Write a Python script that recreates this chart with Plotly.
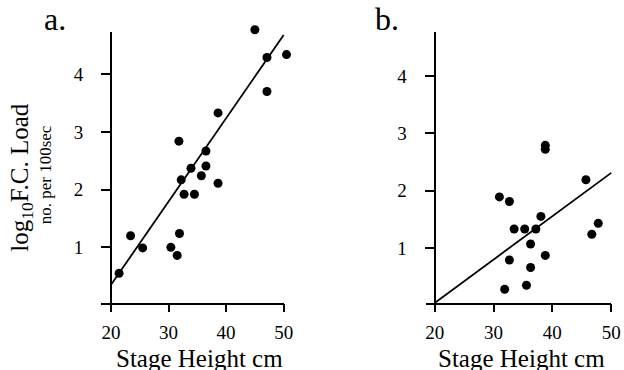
import plotly.graph_objects as go

# Panel a data
a_x = [21.4, 23.4, 25.5, 30.4, 31.5, 31.9, 31.8, 32.2, 32.7, 34.5, 33.9, 35.7, 36.5, 36.5, 38.6, 38.6, 45.0, 47.1, 47.1, 50.5]
a_y = [0.55, 1.20, 0.99, 1.00, 0.86, 1.24, 2.84, 2.17, 1.92, 1.92, 2.37, 2.24, 2.67, 2.41, 3.33, 2.11, 4.77, 4.29, 3.70, 4.34]
a_fit_x = [20, 50]
a_fit_y = [0.35, 4.68]

# Panel b data
b_x = [31.0, 32.7, 33.5, 35.3, 37.2, 38.05, 38.8, 38.8, 36.3, 32.7, 36.3, 38.8, 31.9, 35.6, 45.7, 46.7, 47.8]
b_y = [1.89, 1.81, 1.33, 1.33, 1.33, 1.55, 2.72, 2.79, 1.07, 0.79, 0.66, 0.87, 0.28, 0.35, 2.19, 1.24, 1.43]
b_fit_x = [20, 50]
b_fit_y = [0.04, 2.31]

x_ticks = [20, 30, 40, 50]
y_ticks = [1, 2, 3, 4]

FONT = "Liberation Serif"
W, H = 624, 370

# pixel geometry of the two panels
XPX = 176 / 30.0
XPX_B = 180 / 30.0
YPX_A = 57.7
YPX_B = 57.33
X_MAX = 51.2
Y_MAX = 4.9
y_bottom_px = 303
a_ymin = 0.035
b_ymin = 0.04
a_top_px = y_bottom_px - (Y_MAX - a_ymin) * YPX_A
b_top_px = y_bottom_px - (Y_MAX - b_ymin) * YPX_B
axis_top_px = 31.5

fig = go.Figure()
for xs, ys, fx, fy, xa, ya in [(a_x, a_y, a_fit_x, a_fit_y, "x", "y"),
                               (b_x, b_y, b_fit_x, b_fit_y, "x2", "y2")]:
    fig.add_trace(go.Scatter(x=fx, y=fy, mode="lines", xaxis=xa, yaxis=ya,
                             line=dict(color="black", width=1.8), cliponaxis=False,
                             showlegend=False, hoverinfo="skip"))
    fig.add_trace(go.Scatter(x=xs, y=ys, mode="markers", xaxis=xa, yaxis=ya,
                             marker=dict(color="black", size=9), cliponaxis=False,
                             showlegend=False))
# empty traces so the overlay axes (used only for the axis lines) are drawn
for xa, ya in [("x3", "y3"), ("x4", "y4")]:
    fig.add_trace(go.Scatter(x=[None], y=[None], xaxis=xa, yaxis=ya, showlegend=False,
                             hoverinfo="skip"))

def xax(dom, anchor):
    return dict(domain=dom, range=[20, X_MAX], tickvals=x_ticks, ticks="outside", ticklen=8,
                tickwidth=2, tickcolor="black", showline=False,
                showgrid=False, zeroline=False, fixedrange=True, ticklabelstandoff=4, anchor=anchor,
                tickfont=dict(family=FONT, size=19, color="black"))

def yax(dom, rng, anchor):
    return dict(domain=dom, range=rng, tickvals=y_ticks, ticks="outside", ticklen=9,
                tickwidth=2, tickcolor="black", showline=False,
                showgrid=False, zeroline=False, anchor=anchor, fixedrange=True, ticklabelstandoff=14,
                tickfont=dict(family=FONT, size=19, color="black"))

def line_x(x0px, x1px, anchor):
    return dict(domain=[x0px / W, x1px / W], range=[0, 1], showline=True, linewidth=2,
                linecolor="black", showticklabels=False, ticks="", showgrid=False,
                zeroline=False, fixedrange=True, anchor=anchor)

def line_y(xpx):
    return dict(domain=[(H - y_bottom_px) / H, (H - axis_top_px) / H], range=[0, 1], showline=True,
                linewidth=2, linecolor="black", showticklabels=False, ticks="", showgrid=False,
                zeroline=False, fixedrange=True, anchor="free", position=xpx / W)

fig.update_layout(
    width=W, height=H, margin=dict(l=0, r=0, t=0, b=0),
    paper_bgcolor="white", plot_bgcolor="rgba(0,0,0,0)",
    xaxis=xax([103 / W, (103 + (X_MAX - 20) * XPX) / W], "y"),
    yaxis=yax([(H - y_bottom_px) / H, (H - a_top_px) / H], [a_ymin, Y_MAX], "x"),
    xaxis2=xax([433 / W, (433 + (X_MAX - 20) * XPX_B) / W], "y2"),
    yaxis2=yax([(H - y_bottom_px) / H, (H - b_top_px) / H], [b_ymin, Y_MAX], "x2"),
    xaxis3=line_x(93, 103 + 30 * XPX, "y3"),
    yaxis3=line_y(103),
    xaxis4=line_x(424, 433 + 30 * XPX_B, "y4"),
    yaxis4=line_y(433),
    annotations=[
        dict(text="a.", x=33 / W, y=(H - 19.2) / H, xref="paper", yref="paper", xanchor="left",
             yanchor="middle", showarrow=False, font=dict(family=FONT, size=32, color="black")),
        dict(text="b.", x=370 / W, y=(H - 19.2) / H, xref="paper", yref="paper", xanchor="left",
             yanchor="middle", showarrow=False, font=dict(family=FONT, size=32, color="black")),
        dict(text="Stage Height cm", x=193 / W, y=(H - 358.6) / H, xref="paper", yref="paper",
             xanchor="center", yanchor="middle", showarrow=False,
             font=dict(family=FONT, size=25, color="black")),
        dict(text="Stage Height cm", x=522 / W, y=(H - 358.6) / H, xref="paper", yref="paper",
             xanchor="center", yanchor="middle", showarrow=False,
             font=dict(family=FONT, size=25, color="black")),
        dict(text="log<sub>10</sub>F.C. Load", x=11 / W, y=(H - 177) / H, xref="paper", yref="paper",
             xanchor="center", yanchor="middle", textangle=-90, showarrow=False,
             font=dict(family=FONT, size=25, color="black")),
        dict(text="no. per 100sec", x=36 / W, y=(H - 175) / H, xref="paper", yref="paper",
             xanchor="center", yanchor="middle", textangle=-90, showarrow=False,
             font=dict(family=FONT, size=17, color="black")),
    ],
)

fig.write_html("out.html")
